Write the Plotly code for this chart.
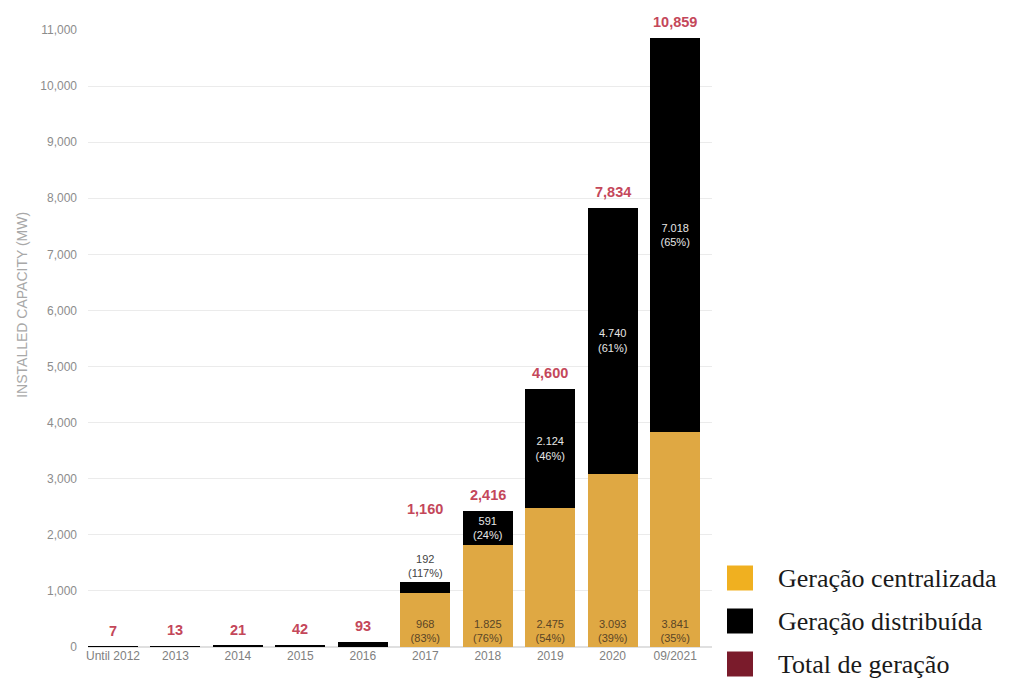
import plotly.graph_objects as go

categories = ["Until 2012", "2013", "2014", "2015", "2016", "2017", "2018", "2019", "2020", "09/2021"]
centralizada = [0, 0, 0, 0, 0, 968, 1825, 2475, 3093, 3841]
distribuida = [7, 13, 21, 42, 93, 192, 591, 2124, 4740, 7018]
totais = [7, 13, 21, 42, 93, 1160, 2416, 4600, 7834, 10859]
cent_text = ["", "", "", "", "", "968<br>(83%)", "1.825<br>(76%)", "2.475<br>(54%)", "3.093<br>(39%)", "3.841<br>(35%)"]
dist_text = ["", "", "", "", "", "192<br>(117%)", "591<br>(24%)", "2.124<br>(46%)", "4.740<br>(61%)", "7.018<br>(65%)"]
y_ticks = list(range(0, 11001, 1000))

YELLOW = "#DFA843"
RED = "#C4475A"

dist_pos = ["outside" if i == 5 else ("inside" if t else "none") for i, t in enumerate(dist_text)]

fig = go.Figure()
fig.add_trace(go.Bar(
    x=categories, y=centralizada, name="Geração centralizada",
    marker=dict(color=YELLOW, line=dict(width=0)),
    text=cent_text, textposition="inside", insidetextanchor="start",
    textfont=dict(size=11, color="#5a4526", family="Liberation Sans"),
    constraintext="none", hoverinfo="skip", showlegend=False,
))
fig.add_trace(go.Bar(
    x=categories, y=distribuida, name="Geração distribuída",
    marker=dict(color="#000000", line=dict(width=0)),
    text=dist_text, textposition=dist_pos, insidetextanchor="middle",
    textfont=dict(size=11, color="#e6e6e6", family="Liberation Sans"),
    insidetextfont=dict(size=11, color="#e6e6e6", family="Liberation Sans"),
    outsidetextfont=dict(size=11, color="#444444", family="Liberation Sans"),
    constraintext="none", cliponaxis=False, hoverinfo="skip", showlegend=False,
))

annotations = []
for i, t in enumerate(totais):
    shift = 63 if dist_pos[i] == "outside" else 6
    annotations.append(dict(
        x=i, y=t, xref="x", yref="y", text="<b>" + f"{t:,}" + "</b>", showarrow=False,
        yanchor="bottom", yshift=shift,
        font=dict(size=14.5, color=RED, family="Liberation Sans"),
    ))

# y-axis title
annotations.append(dict(
    x=-0.107, y=0.555, xref="paper", yref="paper", text="INSTALLED CAPACITY (MW)",
    textangle=-90, showarrow=False, xanchor="center", yanchor="middle",
    font=dict(size=14, color="#a8a8a8", family="Liberation Sans"),
))

# custom legend
legend_items = [("Geração centralizada", "#F0B020"), ("Geração distribuída", "#000000"), ("Total de geração", "#7A1B2B")]
shapes = []
legend_y = [578, 621, 664]
for (label, color), py in zip(legend_items, legend_y):
    y0 = (647 - (py + 12.5)) / 617
    y1 = (647 - (py - 12.5)) / 617
    x0 = (727 - 88) / 624
    x1 = (753 - 88) / 624
    shapes.append(dict(type="rect", xref="paper", yref="paper", x0=x0, x1=x1, y0=y0, y1=y1,
                       fillcolor=color, line=dict(width=0)))
    annotations.append(dict(
        x=(776 - 88) / 624, y=(647 - py) / 617, xref="paper", yref="paper",
        text=label, showarrow=False, xanchor="left", yanchor="middle",
        font=dict(size=26, color="#1a1a1a", family="Liberation Serif, Times New Roman, serif"),
    ))

fig.update_layout(
    width=1011, height=683,
    barmode="stack", bargap=0.2,
    plot_bgcolor="white", paper_bgcolor="white",
    margin=dict(l=88, r=299, t=30, b=36),
    xaxis=dict(
        type="category", range=[-0.4, 9.59], showgrid=False, showline=False, ticks="",
        tickfont=dict(size=12, color="#808080", family="Liberation Sans"),
    ),
    yaxis=dict(
        range=[0, 11000], tickvals=y_ticks, tickformat=",", showgrid=True,
        gridcolor="#ebebeb", gridwidth=1, zeroline=True, zerolinecolor="#e0e0e0",
        showline=False, ticks="", ticklabelstandoff=10,
        tickfont=dict(size=12, color="#8c8c8c", family="Liberation Sans"),
    ),
    annotations=annotations,
    shapes=shapes,
    font=dict(family="Liberation Sans"),
    showlegend=False,
)

fig.write_html("out.html")
